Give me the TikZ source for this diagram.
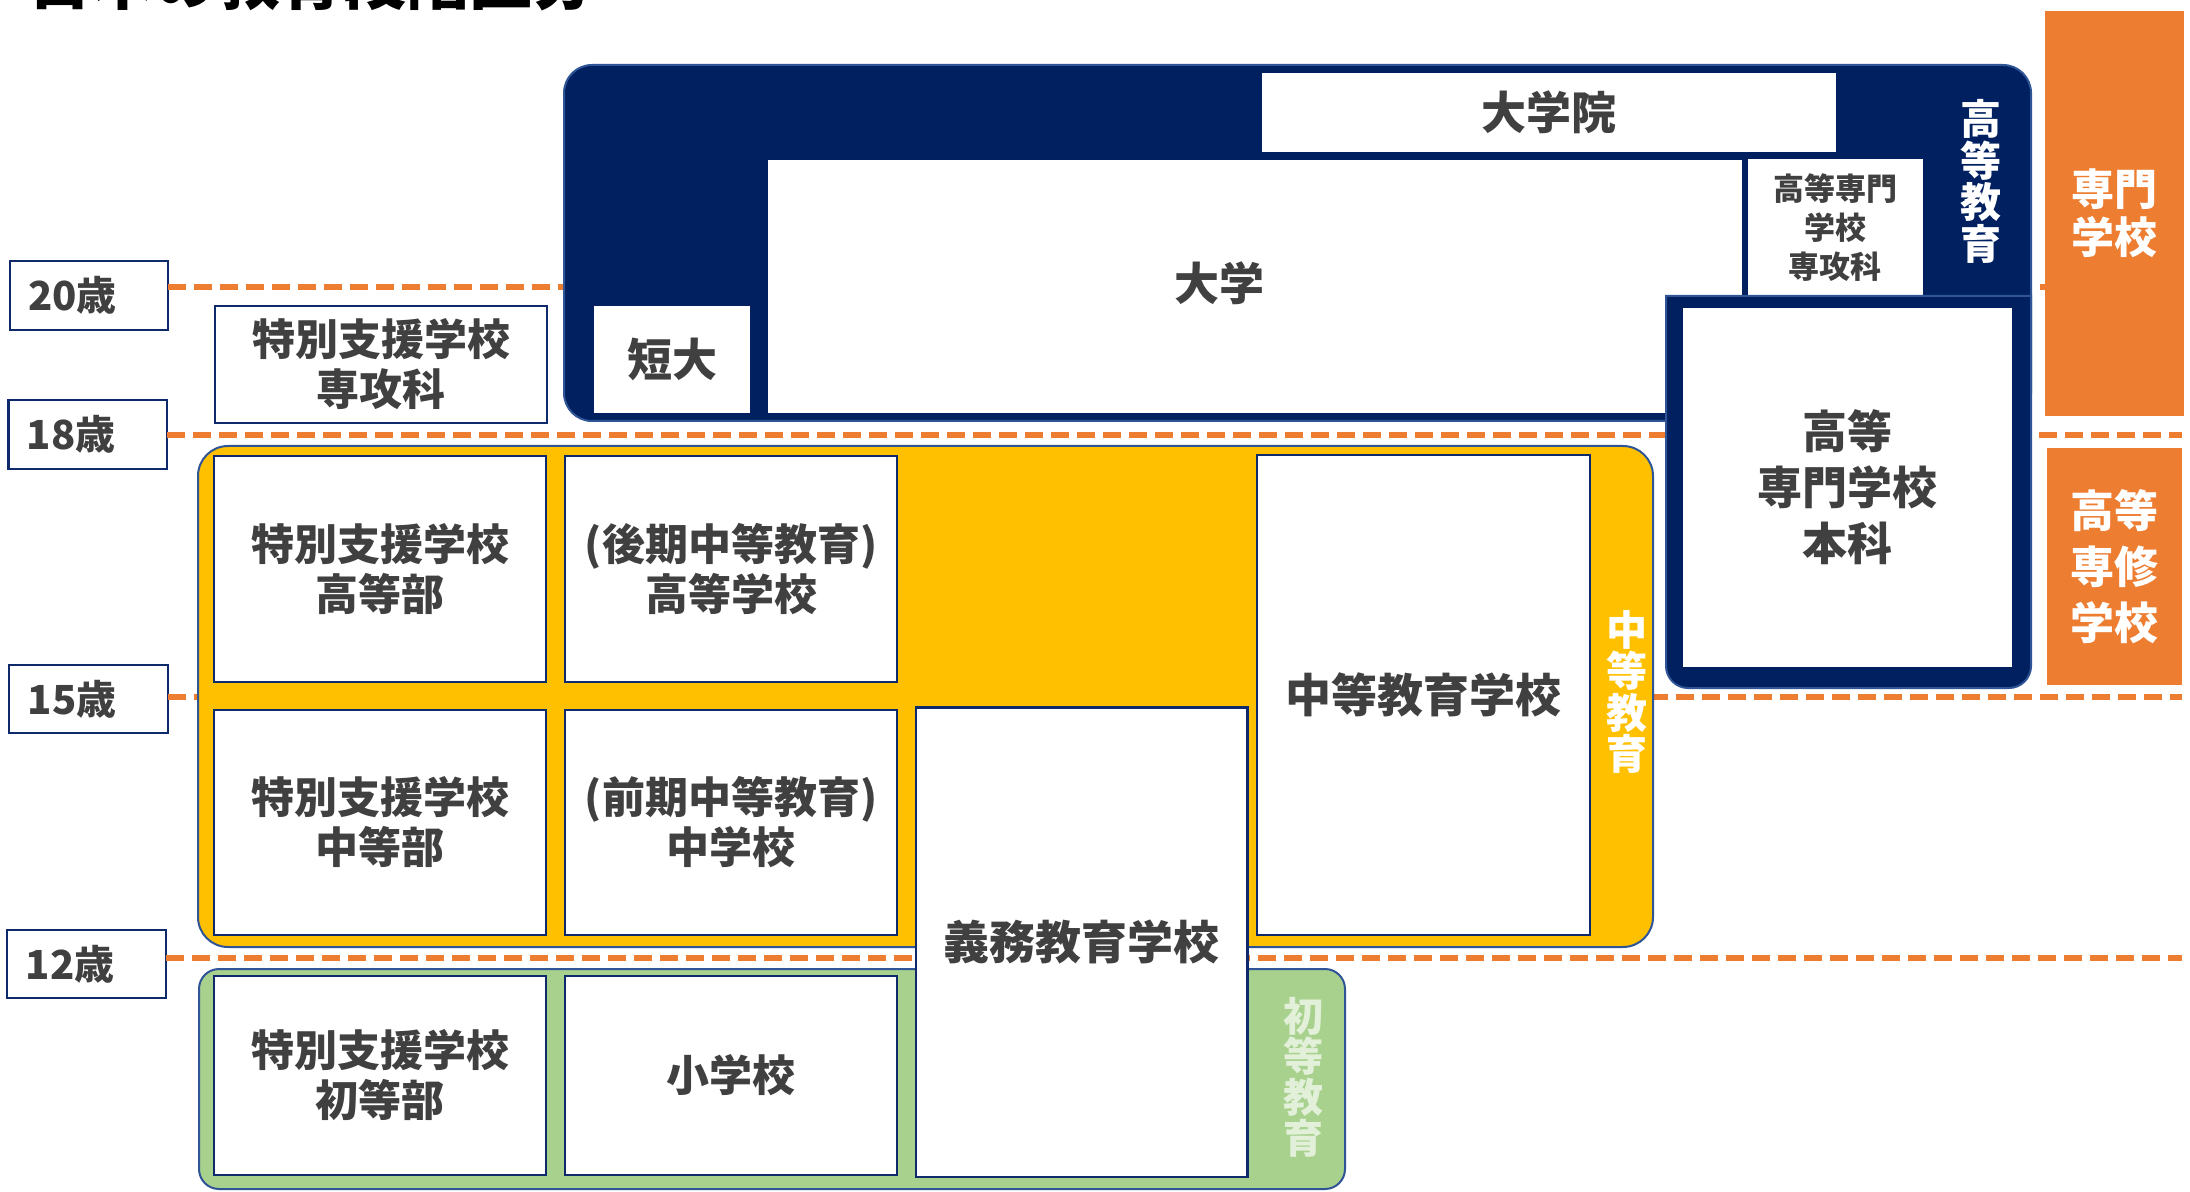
\documentclass[tikz,border=0pt]{standalone}
\usepackage{fontspec}
\newfontfamily\jp{Noto Sans CJK JP}
\definecolor{navy}{HTML}{002060}
\definecolor{navyedge}{HTML}{2F5597}
\definecolor{boxedge}{HTML}{0E2A6B}
\definecolor{ylw}{HTML}{FFC000}
\definecolor{grn}{HTML}{A9D18E}
\definecolor{orng}{HTML}{ED7D31}
\definecolor{txt}{HTML}{404040}
\definecolor{palegrn}{HTML}{E2F0D9}
\newcommand\fs[2]{\fontsize{#1pt}{#2pt}\selectfont}
\newcommand\mkbox[7]{%
  \pgfmathsetmacro\mbcx{(#3+#5)/2}%
  \pgfmathsetmacro\mbcy{(#4+#6)/2}%
  \pgfmathsetmacro\mbw{(#5-#3)*0.5}%
  \pgfmathsetmacro\mbh{(#6-#4)*0.5}%
  \node[#2, minimum width=\mbw pt, minimum height=\mbh pt] (#1) at (\mbcx,\mbcy) {#7};}
\tikzset{
  wbox/.style={draw=boxedge, line width=1.2pt, fill=white, inner sep=0pt, outer sep=0pt,
    text=txt, align=center, font=\jp\bfseries\fs{21.5}{25}},
  inbox/.style={fill=white, draw=none, inner sep=0pt, outer sep=0pt,
    text=txt, align=center, font=\jp\bfseries\fs{22.5}{28}},
  agebox/.style={draw=boxedge, line width=1.1pt, fill=white, inner sep=0pt, outer sep=0pt},
  agetext/.style={anchor=west, inner sep=0pt, text=txt, font=\jp\bfseries\fs{20}{20}},
  dashline/.style={draw=orng, line width=3pt, dash pattern=on 9pt off 4pt},
  vlabel/.style={text=white, align=center, inner sep=0pt, font=\jp\bfseries\fs{20.5}{20.8}},
  obox/.style={fill=orng, draw=none, inner sep=0pt, outer sep=0pt, text=white, align=center},
  zone/.style={draw=navyedge, line width=1pt}
}
\begin{document}
\begin{tikzpicture}[x=0.5pt,y=-0.5pt]
\useasboundingbox (0,0) rectangle (2190,1192);
\fill[white] (0,0) rectangle (2190,1192);

% title (cut off at top)
\node[anchor=base west, inner sep=0pt, font=\jp\bfseries\fs{31.5}{31.5}] (title) at (28,5) {日本の教育段階区分};

% age labels
\mkbox{a20}{agebox}{9.6}{260.7}{167.6}{330}{}
\mkbox{a18}{agebox}{8.4}{400}{166.9}{468.7}{}
\mkbox{a15}{agebox}{9.3}{665}{167.7}{733}{}
\mkbox{a12}{agebox}{7.3}{930}{165.7}{998}{}
\node[agetext] (t20) at ([xshift=9pt]a20.west) {20歳};
\node[agetext] (t18) at ([xshift=9pt]a18.west) {18歳};
\node[agetext] (t15) at ([xshift=9pt]a15.west) {15歳};
\node[agetext] (t12) at ([xshift=9pt]a12.west) {12歳};

% dashed age lines
\coordinate (e20) at (2182,287.5);
\coordinate (e18) at (2182,435);
\coordinate (e15) at (2182,697);
\coordinate (e12) at (2182,957.5);
\draw[dashline] (a20.east |- e20) -- (e20);
\draw[dashline] (a18.east |- e18) -- (e18);
\draw[dashline] (a15.east |- e15) -- (e15);
\draw[dashline] (a12.east |- e12) -- (e12);

% higher education (navy)
\draw[zone, fill=navy, rounded corners=14pt] (564,65) rectangle (2031,421);
\mkbox{daigakuin}{inbox}{1262}{73.3}{1836}{151.7}{大学院}
\mkbox{daigaku}{inbox}{768}{160}{1742}{412.7}{}
\node[text=txt, inner sep=0pt, font=\jp\bfseries\fs{22.5}{28}] (tdaigaku) at (1219,283) {大学};
\mkbox{tandai}{inbox}{594}{306}{750}{412.7}{短大}
\mkbox{senkouka}{inbox, font=\jp\bfseries\fs{15.5}{19.5}}{1748}{159.3}{1922.6}{296}{高等専門\\学校\\専攻科}
\draw[zone, fill=navy] (1666,296) -- (2031,296) -- (2031,666)
  .. controls (2031,678.1) and (2021.1,688) .. (2009,688) -- (1688,688)
  .. controls (1675.9,688) and (1666,678.1) .. (1666,666) -- cycle;
\mkbox{kosen}{inbox}{1683}{307.7}{2012}{667}{高等\\専門学校\\本科}
\node[vlabel] (lhigher) at (1981,181.5) {高\\等\\教\\育};

% orange boxes
\mkbox{senmon}{obox, font=\jp\bfseries\fs{21.5}{24}}{2045}{11}{2184}{415.7}{専門\\学校}
\mkbox{senshu}{obox, font=\jp\bfseries\fs{22}{28}}{2047}{448}{2182}{685}{高等\\専修\\学校}

% special support advanced course
\mkbox{tsenkou}{wbox}{215}{306}{547}{423}{特別支援学校\\専攻科}

% secondary education (yellow)
\draw[zone, fill=ylw, rounded corners=15pt] (198,446) rectangle (1653,947);
\mkbox{tkoutou}{wbox}{214}{456}{546}{682}{特別支援学校\\高等部}
\mkbox{koukou}{wbox}{565}{456}{897}{682}{(後期中等教育)\\高等学校}
\mkbox{tchuutou}{wbox}{214}{710}{546}{935}{特別支援学校\\中等部}
\mkbox{chuugaku}{wbox}{565}{710}{897}{935}{(前期中等教育)\\中学校}
\mkbox{chuutou}{wbox, font=\jp\bfseries\fs{23}{28}}{1257}{455}{1590}{935}{中等教育学校}
\node[vlabel] (lsecondary) at (1626.7,692) {中\\等\\教\\育};

% primary education (green)
\draw[zone, fill=grn, rounded corners=10pt] (199,969) rectangle (1345,1189);
\mkbox{tshotou}{wbox}{214}{976}{546}{1175}{特別支援学校\\初等部}
\mkbox{shougaku}{wbox}{565}{976}{897}{1175}{小学校}
\node[vlabel, text=palegrn, font=\jp\bfseries\fs{20}{20.3}] (lprimary) at (1303,1077) {初\\等\\教\\育};

% compulsory education school
\mkbox{gimu}{wbox, font=\jp\bfseries\fs{23}{28}}{916}{707.5}{1247.5}{1176.7}{義務教育学校}
\end{tikzpicture}
\end{document}
